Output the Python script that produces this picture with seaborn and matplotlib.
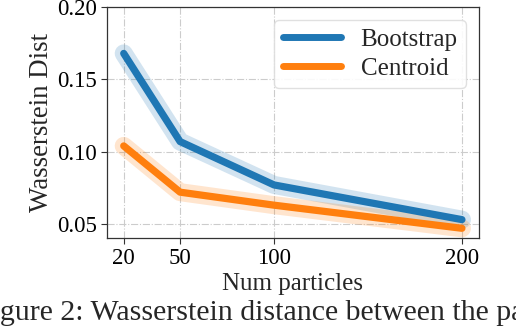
import matplotlib
matplotlib.use("Agg")
import matplotlib.pyplot as plt
import seaborn as sns

# values
num_particles = [20, 50, 100, 200]
bootstrap = [0.168, 0.107, 0.077, 0.053]
centroid = [0.104, 0.072, 0.063, 0.047]
x_ticks = [20, 50, 100, 200]
y_ticks = [0.05, 0.10, 0.15, 0.20]

sns.set_style("ticks")
plt.rcParams['font.family'] = ['Liberation Serif', 'DejaVu Serif']

blue = "#1f77b4"
orange = "#ff7f0e"

fig, ax = plt.subplots(figsize=(5.16, 3.26), dpi=100)
fig.subplots_adjust(left=0.207, right=0.928, top=0.978, bottom=0.27)

# translucent wide band under each line
for vals, col in [(bootstrap, blue), (centroid, orange)]:
    sns.lineplot(x=num_particles, y=vals, ax=ax, color=col, lw=13, alpha=0.2,
                 solid_capstyle='round', solid_joinstyle='round', legend=False)

sns.lineplot(x=num_particles, y=bootstrap, ax=ax, color=blue, lw=5.2, label="Bootstrap")
sns.lineplot(x=num_particles, y=centroid, ax=ax, color=orange, lw=5.2, label="Centroid")

ax.set_xticks(x_ticks)
ax.set_yticks(y_ticks)
ax.set_yticklabels([f"{v:.2f}" for v in y_ticks])
ax.set_ylim(0.0403, 0.20)
ax.set_xlim(11, 209)
ax.tick_params(labelsize=16.5, length=4, width=0.8, colors="#333333", labelcolor="black", pad=3)
ax.grid(True, linestyle='-.', color="#cccccc", linewidth=0.8)
for s in ax.spines.values():
    s.set_color("#333333")
    s.set_linewidth(0.9)

ax.set_xlabel("Num particles", fontsize=18, labelpad=3)
ax.set_ylabel("Wasserstein Dist", fontsize=19.4, labelpad=2)

leg = ax.legend(loc="upper right", fontsize=18, handlelength=2.3, framealpha=0.9,
                edgecolor="#dddddd", borderpad=0.35, labelspacing=0.25)
for line in leg.get_lines():
    line.set_linewidth(5)

fig.text(-25 / 516, 6 / 326, "Figure 2: Wasserstein distance between the particles",
         fontsize=21.5, ha="left", va="baseline")

fig.savefig("out.png", dpi=100)
